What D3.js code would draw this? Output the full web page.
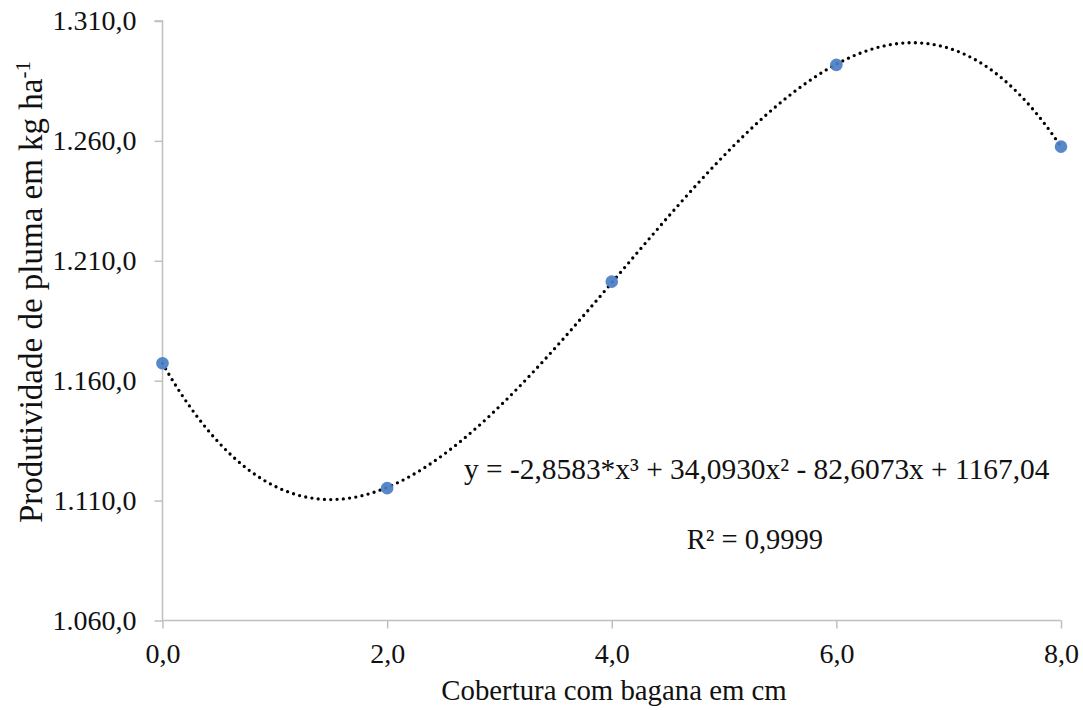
<!DOCTYPE html>
<html>
<head>
<meta charset="utf-8">
<script src="https://cdn.jsdelivr.net/npm/d3@7"></script>
<style>
  html, body { margin: 0; padding: 0; background: #fff; }
  svg { display: block; }
  #chart text, #chart tspan { font-family: "Liberation Serif", "Times New Roman", serif; }
</style>
</head>
<body>
<svg id="chart" width="1083" height="710"></svg>
<script>
// Cover thickness (cm) and lint yield (kg/ha)
const coverCm = [0, 2, 4, 6, 8];
const lintYield = [1167.3, 1115.2, 1201.3, 1291.7, 1257.6];
const yTicks = [1060, 1110, 1160, 1210, 1260, 1310];
const xTicks = [0, 2, 4, 6, 8];
const equationText = "y = -2,8583*x³ + 34,0930x² - 82,6073x + 1167,04";
const r2Text = "R² = 0,9999";

const FONT = '"Liberation Serif", "Times New Roman", serif';
const svg = d3.select("#chart");
const margin = { left: 162.5, right: 22, top: 21, bottom: 89.5 };
const W = 1083, H = 710;

const x = d3.scaleLinear().domain([0, 8]).range([margin.left, W - margin.right]);
const y = d3.scaleLinear().domain([1060, 1310]).range([H - margin.bottom, margin.top]);

// Brazilian number format: 1.310,0
const fmt = v => {
  const s = d3.format(",.1f")(v);
  return s.replace(/,/g, "#").replace(".", ",").replace(/#/g, ".");
};

const serif = sel => sel.style("font-family", FONT);

// Axes
const axisColor = "#bfbfbf";
const yAxis = svg.append("g")
  .attr("transform", `translate(${x(0)},0)`)
  .call(d3.axisLeft(y).tickValues(yTicks).tickSize(8).tickPadding(18).tickFormat(fmt));
const xAxis = svg.append("g")
  .attr("transform", `translate(0,${y(1060)})`)
  .call(d3.axisBottom(x).tickValues(xTicks).tickSize(8).tickPadding(15).tickFormat(fmt));

[yAxis, xAxis].forEach(g => {
  g.attr("font-family", null).attr("font-size", null);
  g.select(".domain").attr("stroke", axisColor).attr("stroke-width", 1.5);
  g.selectAll(".tick line").attr("stroke", axisColor).attr("stroke-width", 1.5);
  g.selectAll(".tick text").attr("fill", "#111").style("font-size", "28px").call(serif);
});
yAxis.select(".domain").attr("d", `M-8,${y(1310)}H0V${y(1060)}`);
xAxis.select(".domain").attr("d", `M${x(0)},0H${x(8)}`);

// Third-order polynomial least-squares fit of the observed points
function polyFit(xs, ys, deg) {
  const n = deg + 1;
  const A = Array.from({ length: n }, () => new Array(n + 1).fill(0));
  for (let i = 0; i < n; i++) {
    for (let j = 0; j < n; j++) A[i][j] = d3.sum(xs, v => Math.pow(v, i + j));
    A[i][n] = d3.sum(xs, (v, k) => ys[k] * Math.pow(v, i));
  }
  for (let c = 0; c < n; c++) {
    let p = c;
    for (let r = c + 1; r < n; r++) if (Math.abs(A[r][c]) > Math.abs(A[p][c])) p = r;
    [A[c], A[p]] = [A[p], A[c]];
    for (let r = 0; r < n; r++) {
      if (r === c) continue;
      const f = A[r][c] / A[c][c];
      for (let k = c; k <= n; k++) A[r][k] -= f * A[c][k];
    }
  }
  return A.map((row, i) => row[n] / row[i]);
}
const coef = polyFit(coverCm, lintYield, 3);
const poly = t => coef.reduce((s, c, i) => s + c * Math.pow(t, i), 0);
const curvePts = d3.range(0, 8.0001, 0.02).map(t => [t, poly(t)]);

// Dotted trend line
svg.append("path")
  .datum(curvePts)
  .attr("fill", "none")
  .attr("stroke", "#000")
  .attr("stroke-width", 3.3)
  .attr("stroke-linecap", "round")
  .attr("stroke-dasharray", "0 6.3")
  .attr("d", d3.line().x(d => x(d[0])).y(d => y(d[1])));

// Observed points
svg.append("g").selectAll("circle")
  .data(coverCm.map((c, i) => [c, lintYield[i]]))
  .join("circle")
  .attr("cx", d => x(d[0]))
  .attr("cy", d => y(d[1]))
  .attr("r", 6.3)
  .attr("fill", "#4a7ec4")
  .attr("fill-opacity", 0.92);

// Equation and R²
svg.append("text")
  .attr("x", 464).attr("y", 479)
  .style("font-size", "29.4px").attr("fill", "#111").call(serif)
  .text(equationText);
svg.append("text")
  .attr("x", 755).attr("y", 549)
  .attr("text-anchor", "middle")
  .style("font-size", "28.5px").attr("fill", "#111").call(serif)
  .text(r2Text);

// Axis titles
svg.append("text")
  .attr("x", 614).attr("y", 700)
  .attr("text-anchor", "middle")
  .style("font-size", "28.8px").attr("fill", "#111").call(serif)
  .text("Cobertura com bagana em cm");

const yt = svg.append("text")
  .attr("transform", `translate(42,292) rotate(-90)`)
  .attr("text-anchor", "middle")
  .style("font-size", "33px").attr("fill", "#111").call(serif);
yt.append("tspan").text("Produtividade de pluma em kg ha");
yt.append("tspan").attr("dy", -12).style("font-size", "21px").call(serif).text("-1");
</script>
</body>
</html>
